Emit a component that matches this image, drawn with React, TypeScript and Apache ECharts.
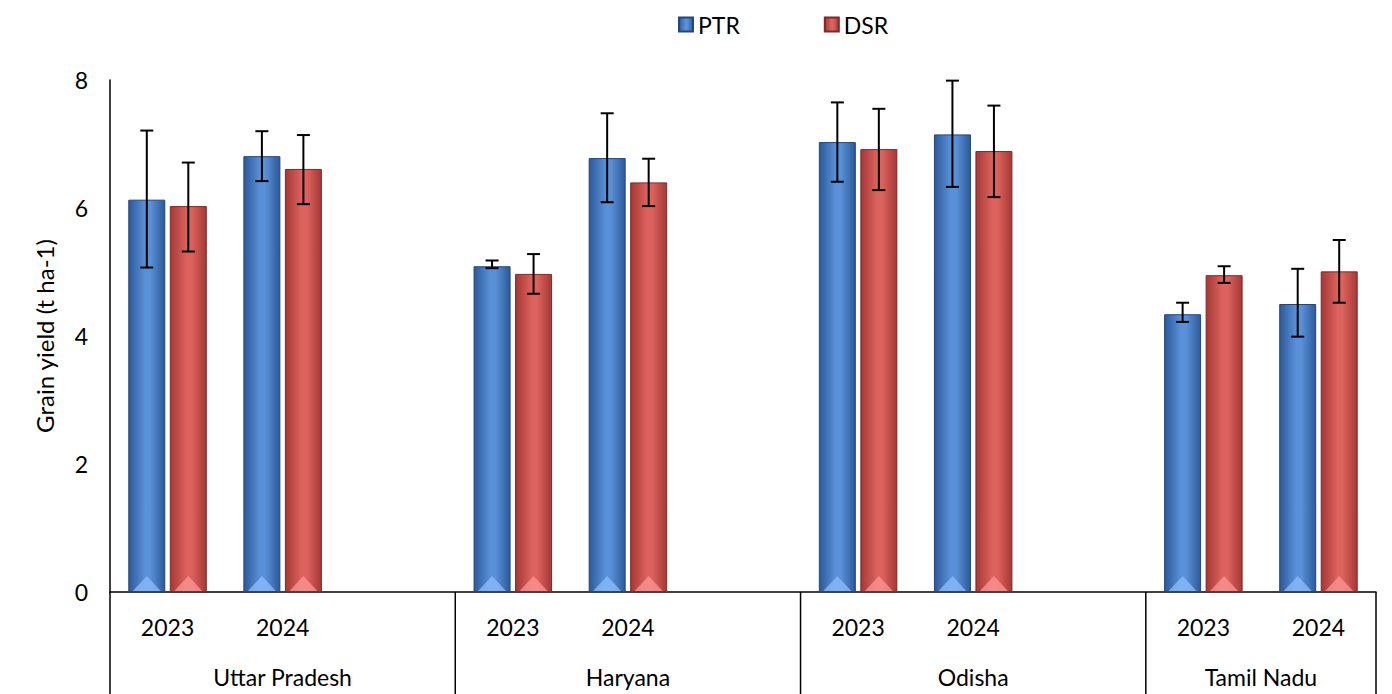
import React, { useEffect, useRef } from "react";
import * as echarts from "echarts";

const categories = ["2023", "2024", "", "2023", "2024", "", "2023", "2024", "", "2023", "2024"];
const groups = ["Uttar Pradesh", "Haryana", "Odisha", "Tamil Nadu"];
const groupStart = [0, 3, 6, 9];
const groupEnd = [2, 5, 8, 10];

const ptr = [6.13, 6.81, null, 5.09, 6.78, null, 7.03, 7.15, null, 4.34, 4.5];
const ptrLow = [5.07, 6.42, null, 5.06, 6.09, null, 6.41, 6.33, null, 4.22, 3.99];
const ptrHigh = [7.21, 7.2, null, 5.18, 7.48, null, 7.65, 7.99, null, 4.52, 5.05];

const dsr = [6.03, 6.61, null, 4.97, 6.4, null, 6.92, 6.89, null, 4.95, 5.01];
const dsrLow = [5.32, 6.06, null, 4.66, 6.03, null, 6.28, 6.17, null, 4.83, 4.52];
const dsrHigh = [6.71, 7.14, null, 5.28, 6.77, null, 7.55, 7.6, null, 5.09, 5.5];

const FONT = "Lato";
const FS = 23;
const BAR_W = 37;
const GAP = 4.5;
const W = 1384;
const H = 686;

function errData(lo: (number | null)[], hi: (number | null)[]) {
  const out: number[][] = [];
  lo.forEach((l, i) => {
    const h = hi[i];
    if (l != null && h != null) out.push([i, l, h]);
  });
  return out;
}

function makeErr(name: string, lo: (number | null)[], hi: (number | null)[], sign: number) {
  return {
    type: "custom",
    name: name + "err",
    z: 10,
    silent: true,
    encode: { x: 0, y: [1, 2] },
    data: errData(lo, hi),
    renderItem: (params: any, api: any) => {
      const i = api.value(0);
      const pLo = api.coord([i, api.value(1)]);
      const pHi = api.coord([i, api.value(2)]);
      const x = pLo[0] + (sign * (BAR_W + GAP)) / 2;
      const cap = 6.5;
      const style = { stroke: "#000", lineWidth: 2 };
      return {
        type: "group",
        children: [
          { type: "line", shape: { x1: x, y1: pLo[1], x2: x, y2: pHi[1] }, style },
          { type: "line", shape: { x1: x - cap, y1: pLo[1], x2: x + cap, y2: pLo[1] }, style },
          { type: "line", shape: { x1: x - cap, y1: pHi[1], x2: x + cap, y2: pHi[1] }, style },
        ],
      };
    },
  };
}

function grad(edge: string, mid: string) {
  return new echarts.graphic.LinearGradient(0, 0, 1, 0, [
    { offset: 0, color: edge },
    { offset: 0.45, color: mid },
    { offset: 0.6, color: mid },
    { offset: 1, color: edge },
  ]);
}

export default function App() {
  const ref = useRef<HTMLDivElement>(null);
  useEffect(() => {
    if (!ref.current) return;
    const chart = echarts.init(ref.current, null, { renderer: "svg" });
    const option: any = {
      animation: false,
      textStyle: { fontFamily: FONT },
      legend: {
        top: 0,
        left: 665,
        itemGap: 84,
        itemWidth: 14,
        itemHeight: 14,
        icon: "rect",
        textStyle: { fontFamily: FONT, fontSize: FS, color: "#000" },
        data: ["PTR", "DSR"],
      },
      grid: { left: 102, right: 16, top: 72, bottom: 102, containLabel: false },
      xAxis: {
        type: "category",
        data: categories,
        axisLine: { show: true, lineStyle: { color: "#000", width: 1.5 } },
        axisTick: { show: false },
        axisLabel: { color: "#000", fontSize: FS, fontFamily: FONT, margin: 23, interval: 0 },
      },
      yAxis: {
        type: "value",
        min: 0,
        max: 8,
        interval: 2,
        name: "Grain yield (t ha-1)",
        nameLocation: "middle",
        nameGap: 54,
        nameTextStyle: { color: "#000", fontSize: 24, fontFamily: FONT },
        axisLine: { show: true, lineStyle: { color: "#000", width: 1.5 } },
        axisTick: { show: false },
        splitLine: { show: false },
        axisLabel: { color: "#000", fontSize: FS, fontFamily: FONT, margin: 22 },
      },
      series: [
        {
          type: "bar",
          name: "PTR",
          data: ptr,
          barWidth: BAR_W,
          barGap: (GAP / BAR_W) * 100 + "%",
          itemStyle: { color: grad("#2c5a9a", "#5a90d8"), borderColor: "#254678", borderWidth: 1 },
        },
        {
          type: "bar",
          name: "DSR",
          data: dsr,
          barWidth: BAR_W,
          itemStyle: { color: grad("#a53835", "#dc625d"), borderColor: "#7d2b29", borderWidth: 1 },
        },
        makeErr("PTR", ptrLow, ptrHigh, -1),
        makeErr("DSR", dsrLow, dsrHigh, 1),
      ],
    };
    chart.setOption(option);

    const c0 = chart.convertToPixel({ xAxisIndex: 0 }, 0) as number;
    const c1 = chart.convertToPixel({ xAxisIndex: 0 }, 1) as number;
    const slot = c1 - c0;
    const y0 = chart.convertToPixel({ yAxisIndex: 0 }, 0) as number;
    const bottom = H;
    const left = c0 - slot / 2;
    const graphics: any[] = [
      { type: "line", shape: { x1: left, y1: y0, x2: left, y2: bottom }, style: { stroke: "#000", lineWidth: 1.5 } },
    ];
    groups.forEach((g, k) => {
      const s = chart.convertToPixel({ xAxisIndex: 0 }, groupStart[k]) as number;
      const e = chart.convertToPixel({ xAxisIndex: 0 }, groupEnd[k]) as number;
      const rightEdge = e + slot / 2;
      let center = (s + e) / 2;
      if (groupEnd[k] - groupStart[k] === 2) center = s + slot;
      graphics.push({
        type: "line",
        shape: { x1: rightEdge, y1: y0, x2: rightEdge, y2: bottom },
        style: { stroke: "#000", lineWidth: 1.5 },
      });
      graphics.push({
        type: "text",
        x: center,
        y: y0 + 85,
        style: { text: g, font: `${FS}px ${FONT}`, fill: "#000", textAlign: "center", textVerticalAlign: "middle" },
      });
    });
    [ptr, dsr].forEach((arr, si) => {
      arr.forEach((v, i) => {
        if (v == null) return;
        const cx = (chart.convertToPixel({ xAxisIndex: 0 }, i) as number) + ((si === 0 ? -1 : 1) * (BAR_W + GAP)) / 2;
        graphics.push({
          type: "polygon",
          shape: { points: [[cx - 14, y0 - 1], [cx, y0 - 16], [cx + 14, y0 - 1]] },
          style: { fill: si === 0 ? "rgba(140,190,255,0.75)" : "rgba(255,150,150,0.75)" },
          z: 5,
        });
      });
    });
    chart.setOption({ graphic: graphics });

    return () => chart.dispose();
  }, []);
  return <div ref={ref} style={{ width: W, height: H }} />;
}
